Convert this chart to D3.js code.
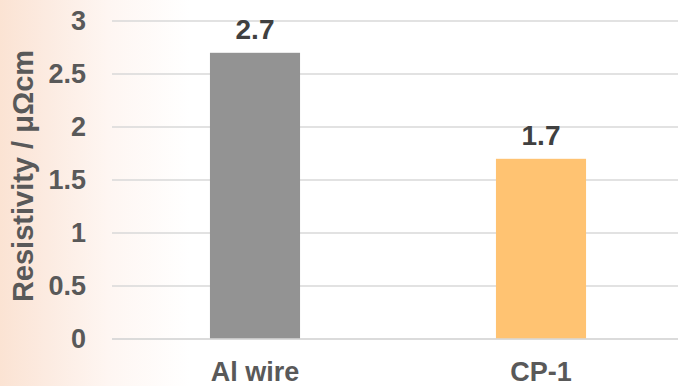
<!DOCTYPE html>
<html>
<head>
<meta charset="utf-8">
<script src="https://cdn.jsdelivr.net/npm/d3@7"></script>
<style>
  html, body { margin: 0; padding: 0; background: #fff; }
  svg { display: block; font-family: "Liberation Sans", Arial, sans-serif; font-weight: bold; }
</style>
</head>
<body>
<svg id="chart" width="678" height="386"></svg>
<script>
// Resistivity of the two conductor samples
const categories = ["Al wire", "CP-1"];
const resistivity = [2.7, 1.7];
const barColors = ["#939393", "#FFC372"];
const yTicks = [0, 0.5, 1, 1.5, 2, 2.5, 3];
const yTitle = "Resistivity / μΩcm";

const W = 678, H = 386;
const plot = { left: 112, right: 684, top: 21, bottom: 339 };

const svg = d3.select("#chart");

// soft warm wash along the left edge
const defs = svg.append("defs");
const grad = defs.append("linearGradient").attr("id", "wash")
  .attr("x1", 0).attr("x2", 1).attr("y1", 0).attr("y2", 0);
grad.append("stop").attr("offset", "0%").attr("stop-color", "#FBE3D3");
grad.append("stop").attr("offset", "7%").attr("stop-color", "#FCEBE1");
grad.append("stop").attr("offset", "16%").attr("stop-color", "#FEF6F2");
grad.append("stop").attr("offset", "28%").attr("stop-color", "#FFFFFF");
grad.append("stop").attr("offset", "100%").attr("stop-color", "#FFFFFF");
svg.append("rect").attr("width", W).attr("height", H).attr("fill", "url(#wash)");

const x = d3.scaleBand()
  .domain(categories)
  .range([plot.left, plot.right])
  .paddingInner(0.685)
  .paddingOuter(0.3425);

const y = d3.scaleLinear().domain([0, 3]).range([plot.bottom, plot.top]);

// horizontal gridlines
svg.append("g")
  .selectAll("line")
  .data(yTicks)
  .join("line")
  .attr("x1", plot.left).attr("x2", plot.right)
  .attr("y1", d => y(d)).attr("y2", d => y(d))
  .attr("stroke", "#D9D9D9").attr("stroke-width", 1.5);

// y axis tick labels
const yAxis = d3.axisLeft(y).tickValues(yTicks).tickSize(0).tickPadding(0)
  .tickFormat(d3.format("~g"));
const gy = svg.append("g").attr("transform", "translate(86,0)").call(yAxis);
gy.select(".domain").remove();
gy.selectAll("text")
  .attr("fill", "#595959")
  .attr("font-size", 27)
  .attr("font-family", "Liberation Sans, Arial, sans-serif")
  .attr("font-weight", "bold");

// bars
svg.append("g")
  .selectAll("rect")
  .data(categories)
  .join("rect")
  .attr("x", d => x(d))
  .attr("width", x.bandwidth())
  .attr("y", (d, i) => y(resistivity[i]))
  .attr("height", (d, i) => y(0) - y(resistivity[i]))
  .attr("fill", (d, i) => barColors[i]);

// baseline over the bars
svg.append("line")
  .attr("x1", plot.left).attr("x2", plot.right)
  .attr("y1", y(0)).attr("y2", y(0))
  .attr("stroke", "#D9D9D9").attr("stroke-width", 1.5);

// value labels
svg.append("g")
  .selectAll("text")
  .data(categories)
  .join("text")
  .attr("x", d => x(d) + x.bandwidth() / 2)
  .attr("y", (d, i) => y(resistivity[i]) - 14)
  .attr("text-anchor", "middle")
  .attr("fill", "#404040")
  .attr("font-size", 28)
  .text((d, i) => resistivity[i]);

// x axis category labels
const xAxis = d3.axisBottom(x).tickSize(0).tickPadding(0);
const gx = svg.append("g").attr("transform", "translate(0,381)").call(xAxis);
gx.select(".domain").remove();
gx.selectAll("text")
  .attr("dy", 0)
  .attr("fill", "#595959")
  .attr("font-size", 27)
  .attr("font-family", "Liberation Sans, Arial, sans-serif")
  .attr("font-weight", "bold");

// y axis title
svg.append("text")
  .attr("transform", `translate(33,${(plot.top + plot.bottom) / 2 - 4}) rotate(-90)`)
  .attr("text-anchor", "middle")
  .attr("fill", "#595959")
  .attr("font-size", 29)
  .text(yTitle);
</script>
</body>
</html>
